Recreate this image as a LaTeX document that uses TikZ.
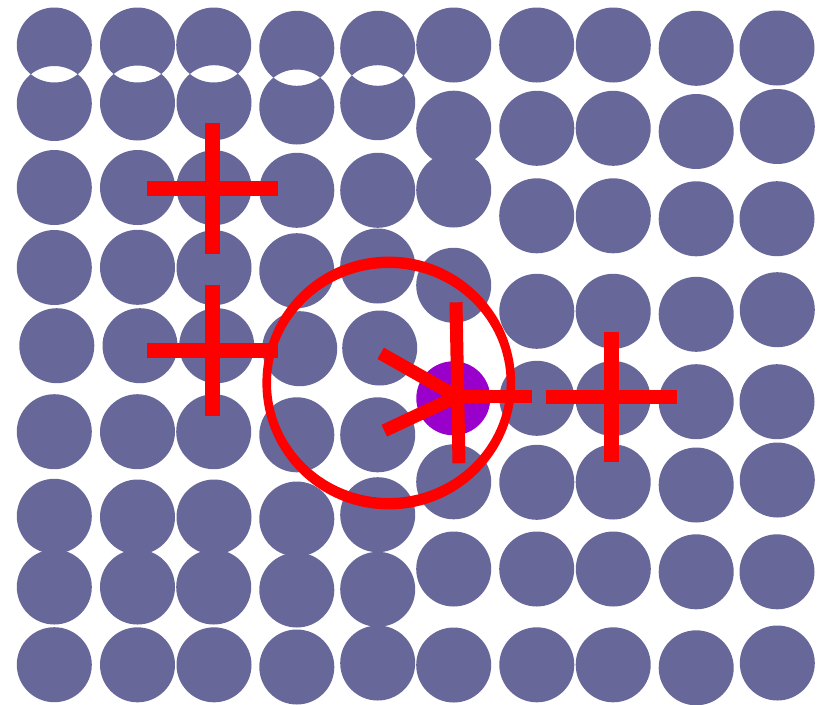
\documentclass[tikz,border=0pt]{standalone}
\usepackage{xcolor}
\usepackage{tikz}
\definecolor{DotBlue}{RGB}{103,103,153}
\definecolor{TargetPurple}{RGB}{153,0,204}
\definecolor{MarkRed}{RGB}{255,0,0}
\tikzset{
  dot/.style={fill=DotBlue},
  crossbar/.style={draw=MarkRed, line width=3.68mm},
  gazebar/.style={draw=MarkRed, line width=3.25mm},
}
\begin{document}
\begin{tikzpicture}[x=0.25mm,y=-0.25mm]
  \path[use as bounding box, fill=white] (0,0) rectangle (819,704);

  \fill[dot, even odd rule]
    (54.3,45) circle (37.5) (54.3,103.5) circle (37.5)
    (137.5,45) circle (37.5) (137.5,103) circle (37.5)
    (213.7,45) circle (37.5) (214,102.7) circle (37.5)
    (296.8,48.3) circle (37.5) (296.8,107) circle (37.5)
    (377.7,48.3) circle (37.5) (377.7,102.7) circle (37.5);

  \foreach \x/\y in {54.3/187.5,54.3/267.5,56.8/345.7,54.3/431.7,54.3/516.3,54.3/587,54.3/664.7,
                     137.5/187.5,137.5/267.3,140/345.7,137.5/431.7,137.5/517,137.5/587,137.5/664.8,
                     214/187.7,214/267.7,216.7/345.7,213.7/431.7,214/517,213.7/587,214/664.8,
                     296.8/190.3,296.8/270.7,299.7/348.7,296.8/434.8,296.8/519,296.8/590,296.8/667,
                     377.7/190.3,377.7/266,379.7/348,377.7/434.8,377.7/514.7,377.7/589.3,377.7/663,
                     453.7/45,453.7/128.2,453.7/190,453.7/285.3,453.7/481.8,453.7/569,453.7/665,
                     536.7/45,536.8/128.3,536.7/215.8,536.8/311.3,536.8/398.3,536.8/482.3,536.7/569,536.8/664.8,
                     613.3/45,613.2/128.3,613.3/215.8,613.2/311.3,613/398.5,613.2/482,613.3/569,613.2/664.8,
                     696.2/48.3,696.2/131.5,696.2/218.8,696.2/314.3,696.2/401.7,696.2/485,696.2/571.8,696.2/667.8,
                     777/48,777.3/126.5,777/218.7,777.3/309.7,777/401.7,777.3/480,777/571.8,777.3/663}{
    \fill[dot] (\x,\y) circle (37.5);
  }

  \fill[TargetPurple] (453.3,398.3) circle (37);
  \fill[MarkRed, even odd rule] (388.8,383) circle (126.4)
    (388.8,383) ellipse [x radius=117.8, y radius=115];

  \foreach \cx/\cy in {212.7/188.7,212.7/350.2,611.6/397}{
    \draw[crossbar] (\cx-65.3,\cy) -- (\cx+65.3,\cy);
    \draw[crossbar] (\cx,\cy-65.3) -- (\cx,\cy+65.3);
  }

  \draw[gazebar] (380.7,353.3) -- (457,396.5);
  \draw[gazebar] (384.3,430.7) -- (457,396.5);
  \draw[gazebar] (455,396) -- (532,396);
  \draw[gazebar] (456,302.3) -- (459,463.3);
\end{tikzpicture}
\end{document}
